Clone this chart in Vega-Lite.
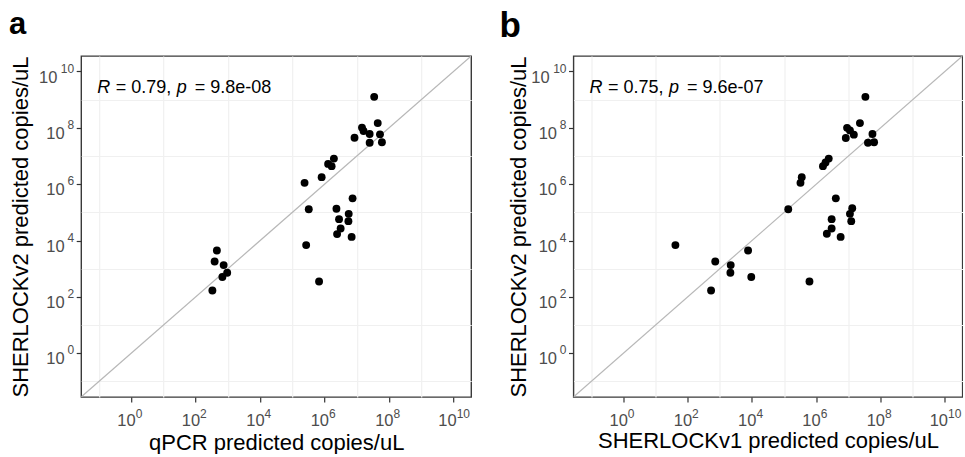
{
  "$schema": "https://vega.github.io/schema/vega-lite/v6.json",
  "padding": {"left": 7.2, "top": 8, "right": 0, "bottom": 0},
  "spacing": 26.3,
  "background": "white",
  "config": {
    "font": "Liberation Sans",
    "view": {"stroke": "#3A3A3A", "strokeWidth": 1.4},
    "axis": {
      "domain": false, "grid": true, "gridColor": "#E6E6E6", "gridWidth": 1.5,
      "tickColor": "#333333", "tickWidth": 1.2, "tickSize": 5,
      "labelColor": "#4D4D4D", "labelFontSize": 16.5, "labelFont": "Liberation Sans",
      "titleFont": "Liberation Sans", "titleFontSize": 22, "titleFontWeight": "normal", "titleColor": "#000000",
      "labelFlush": false, "labelOverlap": false, "labelBound": false
    }
  },
  "datasets": {
    "diag": [{"x": 0.028183829, "y": 0.028183829}, {"x": 35481338923, "y": 35481338923}],
    "ann": [
      {"panel": "a", "x": 0.089, "y": 1.74e9, "r": "R", "s1": "= 0.79,", "p": "p", "s2": "= 9.8e-08"},
      {"panel": "b", "x": 0.089, "y": 1.74e9, "r": "R", "s1": "= 0.75,", "p": "p", "s2": "= 9.6e-07"}
    ],
    "pts": [
      {"panel": "a", "x": 3.47e7, "y": 1.26e9}, {"panel": "a", "x": 4.47e7, "y": 1.48e8}, {"panel": "a", "x": 1.45e7, "y": 1.02e8},
      {"panel": "a", "x": 1.62e7, "y": 7.76e7}, {"panel": "a", "x": 2.51e7, "y": 6.03e7}, {"panel": "a", "x": 5.25e7, "y": 5.89e7},
      {"panel": "a", "x": 8.51e6, "y": 4.47e7}, {"panel": "a", "x": 2.51e7, "y": 2.95e7}, {"panel": "a", "x": 6.03e7, "y": 3.09e7},
      {"panel": "a", "x": 1.95e6, "y": 8.13e6}, {"panel": "a", "x": 1.29e6, "y": 5.25e6}, {"panel": "a", "x": 1.66e6, "y": 4.37e6},
      {"panel": "a", "x": 8.13e5, "y": 1.78e6}, {"panel": "a", "x": 2.40e5, "y": 1.12e6}, {"panel": "a", "x": 7.41e6, "y": 3.16e5},
      {"panel": "a", "x": 3.24e5, "y": 1.29e5}, {"panel": "a", "x": 2.34e6, "y": 1.35e5}, {"panel": "a", "x": 5.62e6, "y": 8.91e4},
      {"panel": "a", "x": 2.82e6, "y": 5.75e4}, {"panel": "a", "x": 5.50e6, "y": 4.90e4}, {"panel": "a", "x": 3.16e6, "y": 2.69e4},
      {"panel": "a", "x": 2.45e6, "y": 1.70e4}, {"panel": "a", "x": 6.92e6, "y": 1.35e4}, {"panel": "a", "x": 2.69e5, "y": 6920},
      {"panel": "a", "x": 457, "y": 4470}, {"panel": "a", "x": 389, "y": 1820}, {"panel": "a", "x": 741, "y": 1350},
      {"panel": "a", "x": 955, "y": 724}, {"panel": "a", "x": 676, "y": 513}, {"panel": "a", "x": 331, "y": 170},
      {"panel": "a", "x": 6.76e5, "y": 355},
      {"panel": "b", "x": 3.39e7, "y": 1.26e9}, {"panel": "b", "x": 2.29e7, "y": 1.48e8}, {"panel": "b", "x": 9.12e6, "y": 1.00e8},
      {"panel": "b", "x": 1.12e7, "y": 8.13e7}, {"panel": "b", "x": 1.48e7, "y": 5.75e7}, {"panel": "b", "x": 5.62e7, "y": 6.03e7},
      {"panel": "b", "x": 8.32e6, "y": 4.37e7}, {"panel": "b", "x": 4.07e7, "y": 2.95e7}, {"panel": "b", "x": 6.31e7, "y": 3.09e7},
      {"panel": "b", "x": 2.45e6, "y": 8.13e6}, {"panel": "b", "x": 1.95e6, "y": 5.89e6}, {"panel": "b", "x": 1.62e6, "y": 4.37e6},
      {"panel": "b", "x": 3.55e5, "y": 1.78e6}, {"panel": "b", "x": 3.24e5, "y": 1.12e6}, {"panel": "b", "x": 4.07e6, "y": 3.16e5},
      {"panel": "b", "x": 1.35e5, "y": 1.29e5}, {"panel": "b", "x": 1.32e7, "y": 1.41e5}, {"panel": "b", "x": 1.12e7, "y": 8.91e4},
      {"panel": "b", "x": 3.02e6, "y": 5.75e4}, {"panel": "b", "x": 1.23e7, "y": 4.90e4}, {"panel": "b", "x": 3.02e6, "y": 2.69e4},
      {"panel": "b", "x": 2.14e6, "y": 1.74e4}, {"panel": "b", "x": 5.75e6, "y": 1.35e4}, {"panel": "b", "x": 41.7, "y": 6920},
      {"panel": "b", "x": 7590, "y": 4470}, {"panel": "b", "x": 724, "y": 1820}, {"panel": "b", "x": 2190, "y": 1350},
      {"panel": "b", "x": 2140, "y": 724}, {"panel": "b", "x": 9550, "y": 513}, {"panel": "b", "x": 537, "y": 170},
      {"panel": "b", "x": 6.17e5, "y": 355}
    ]
  },
  "hconcat": [
    {
      "width": 390, "height": 341,
      "title": {"text": "a", "anchor": "start", "frame": "bounds", "fontSize": 31, "fontWeight": "bold", "baseline": "alphabetic", "offset": -8.8, "dx": -0.8, "color": "#000000"},
      "layer": [
        {
          "data": {"name": "diag"},
          "mark": {"type": "line", "color": "#B8B8B8", "strokeWidth": 1.2, "clip": true},
          "encoding": {
            "x": {"field": "x", "type": "quantitative", "scale": {"type": "log", "domain": [0.028183829, 35481338923], "nice": false},
                  "axis": {"orient": "bottom", "values": [0.1, 10, 1000, 100000, 10000000, 1000000000], "labels": false, "ticks": false, "tickSize": 0, "title": null, "gridWidth": 1.2, "gridColor": "#F0F0F0"}},
            "y": {"field": "y", "type": "quantitative", "scale": {"type": "log", "domain": [0.028183829, 35481338923], "nice": false},
                  "axis": {"orient": "left", "values": [0.1, 10, 1000, 100000, 10000000, 1000000000], "labels": false, "ticks": false, "tickSize": 0, "title": null, "gridWidth": 1.2, "gridColor": "#F0F0F0"}}
          }
        },
        {
          "data": {"name": "pts"},
          "transform": [{"filter": "datum.panel == 'a'"}],
          "mark": {"type": "circle", "color": "#000000", "opacity": 1, "size": 62},
          "encoding": {
            "x": {"field": "x", "type": "quantitative",
                  "axis": {"orient": "bottom", "values": [1, 100, 10000, 1000000, 100000000, 10000000000],
                           "labelExpr": "'10'", "labelAlign": "right", "labelBaseline": "alphabetic", "labelPadding": 23.7,
                           "labelOffset": {"condition": {"test": "datum.value > 1e9", "value": 2.7}, "value": 4},
                           "title": "qPCR predicted copies/uL", "titleX": 195, "titleY": 52.3, "titleBaseline": "alphabetic", "titleAlign": "center"}},
            "y": {"field": "y", "type": "quantitative",
                  "axis": {"orient": "left", "values": [1, 100, 10000, 1000000, 100000000, 10000000000],
                           "labelExpr": "'10'", "labelAlign": "right", "labelBaseline": "alphabetic", "labelOffset": 10.5,
                           "labelPadding": {"condition": {"test": "datum.value > 1e9", "value": 19.3}, "value": 12},
                           "title": "SHERLOCKv2 predicted copies/uL", "titleX": -53.5, "titleY": 170.5, "titleBaseline": "alphabetic", "titleAlign": "center", "titleAngle": 270}}
          }
        },
        {
          "data": {"name": "ann"}, "transform": [{"filter": "datum.panel == 'a'"}],
          "mark": {"type": "text", "align": "left", "baseline": "alphabetic", "fontSize": 18, "fontStyle": "italic", "color": "#000000"},
          "encoding": {
            "x": {"field": "x", "type": "quantitative",
                  "axis": {"orient": "bottom", "values": [1, 100, 10000, 1000000, 100000000, 10000000000], "grid": false, "ticks": false, "tickSize": 0, "title": null,
                           "labelExpr": "datum.value < 10 ? '0' : datum.value < 1000 ? '2' : datum.value < 1e5 ? '4' : datum.value < 1e7 ? '6' : datum.value < 1e9 ? '8' : '10'",
                           "labelFontSize": 12, "labelAlign": "left", "labelBaseline": "alphabetic", "labelPadding": 20.7,
                           "labelOffset": {"condition": {"test": "datum.value > 1e9", "value": 2.7}, "value": 4}}},
            "y": {"field": "y", "type": "quantitative",
                  "axis": {"orient": "left", "values": [1, 100, 10000, 1000000, 100000000, 10000000000], "grid": false, "ticks": false, "tickSize": 0, "title": null,
                           "labelExpr": "datum.value < 10 ? '0' : datum.value < 1000 ? '2' : datum.value < 1e5 ? '4' : datum.value < 1e7 ? '6' : datum.value < 1e9 ? '8' : '10'",
                           "labelFontSize": 12, "labelAlign": "right", "labelBaseline": "alphabetic", "labelPadding": 7.5, "labelOffset": 0.5}},
            "text": {"field": "r"}
          }
        },
        {
          "data": {"name": "ann"}, "transform": [{"filter": "datum.panel == 'a'"}],
          "mark": {"type": "text", "align": "left", "baseline": "alphabetic", "fontSize": 18, "dx": 18.5, "color": "#000000"},
          "encoding": {"x": {"field": "x", "type": "quantitative", "axis": null}, "y": {"field": "y", "type": "quantitative", "axis": null}, "text": {"field": "s1"}}
        },
        {
          "data": {"name": "ann"}, "transform": [{"filter": "datum.panel == 'a'"}],
          "mark": {"type": "text", "align": "left", "baseline": "alphabetic", "fontSize": 18, "fontStyle": "italic", "dx": 79.5, "color": "#000000"},
          "encoding": {"x": {"field": "x", "type": "quantitative", "axis": null}, "y": {"field": "y", "type": "quantitative", "axis": null}, "text": {"field": "p"}}
        },
        {
          "data": {"name": "ann"}, "transform": [{"filter": "datum.panel == 'a'"}],
          "mark": {"type": "text", "align": "left", "baseline": "alphabetic", "fontSize": 18, "dx": 97.5, "color": "#000000"},
          "encoding": {"x": {"field": "x", "type": "quantitative", "axis": null}, "y": {"field": "y", "type": "quantitative", "axis": null}, "text": {"field": "s2"}}
        }
      ],
      "resolve": {"axis": {"x": "independent", "y": "independent"}}
    },
    {
      "width": 389, "height": 341,
      "title": {"text": "b", "anchor": "start", "frame": "bounds", "fontSize": 35, "fontWeight": "bold", "baseline": "alphabetic", "offset": -16.2, "dx": -8.5, "color": "#000000"},
      "layer": [
        {
          "data": {"name": "diag"},
          "mark": {"type": "line", "color": "#B8B8B8", "strokeWidth": 1.2, "clip": true},
          "encoding": {
            "x": {"field": "x", "type": "quantitative", "scale": {"type": "log", "domain": [0.028183829, 35481338923], "nice": false},
                  "axis": {"orient": "bottom", "values": [0.1, 10, 1000, 100000, 10000000, 1000000000], "labels": false, "ticks": false, "tickSize": 0, "title": null, "gridWidth": 1.2, "gridColor": "#F0F0F0"}},
            "y": {"field": "y", "type": "quantitative", "scale": {"type": "log", "domain": [0.028183829, 35481338923], "nice": false},
                  "axis": {"orient": "left", "values": [0.1, 10, 1000, 100000, 10000000, 1000000000], "labels": false, "ticks": false, "tickSize": 0, "title": null, "gridWidth": 1.2, "gridColor": "#F0F0F0"}}
          }
        },
        {
          "data": {"name": "pts"},
          "transform": [{"filter": "datum.panel == 'b'"}],
          "mark": {"type": "circle", "color": "#000000", "opacity": 1, "size": 62},
          "encoding": {
            "x": {"field": "x", "type": "quantitative",
                  "axis": {"orient": "bottom", "values": [1, 100, 10000, 1000000, 100000000, 10000000000],
                           "labelExpr": "'10'", "labelAlign": "right", "labelBaseline": "alphabetic", "labelPadding": 23.7,
                           "labelOffset": {"condition": {"test": "datum.value > 1e9", "value": 2.7}, "value": 4},
                           "title": "SHERLOCKv1 predicted copies/uL", "titleX": 194.5, "titleY": 50.7, "titleBaseline": "alphabetic", "titleAlign": "center"}},
            "y": {"field": "y", "type": "quantitative",
                  "axis": {"orient": "left", "values": [1, 100, 10000, 1000000, 100000000, 10000000000],
                           "labelExpr": "'10'", "labelAlign": "right", "labelBaseline": "alphabetic", "labelOffset": 10.5,
                           "labelPadding": {"condition": {"test": "datum.value > 1e9", "value": 19.3}, "value": 12},
                           "title": "SHERLOCKv2 predicted copies/uL", "titleX": -47.5, "titleY": 170.5, "titleBaseline": "alphabetic", "titleAlign": "center", "titleAngle": 270}}
          }
        },
        {
          "data": {"name": "ann"}, "transform": [{"filter": "datum.panel == 'b'"}],
          "mark": {"type": "text", "align": "left", "baseline": "alphabetic", "fontSize": 18, "fontStyle": "italic", "color": "#000000"},
          "encoding": {
            "x": {"field": "x", "type": "quantitative",
                  "axis": {"orient": "bottom", "values": [1, 100, 10000, 1000000, 100000000, 10000000000], "grid": false, "ticks": false, "tickSize": 0, "title": null,
                           "labelExpr": "datum.value < 10 ? '0' : datum.value < 1000 ? '2' : datum.value < 1e5 ? '4' : datum.value < 1e7 ? '6' : datum.value < 1e9 ? '8' : '10'",
                           "labelFontSize": 12, "labelAlign": "left", "labelBaseline": "alphabetic", "labelPadding": 20.7,
                           "labelOffset": {"condition": {"test": "datum.value > 1e9", "value": 2.7}, "value": 4}}},
            "y": {"field": "y", "type": "quantitative",
                  "axis": {"orient": "left", "values": [1, 100, 10000, 1000000, 100000000, 10000000000], "grid": false, "ticks": false, "tickSize": 0, "title": null,
                           "labelExpr": "datum.value < 10 ? '0' : datum.value < 1000 ? '2' : datum.value < 1e5 ? '4' : datum.value < 1e7 ? '6' : datum.value < 1e9 ? '8' : '10'",
                           "labelFontSize": 12, "labelAlign": "right", "labelBaseline": "alphabetic", "labelPadding": 7.5, "labelOffset": 0.5}},
            "text": {"field": "r"}
          }
        },
        {
          "data": {"name": "ann"}, "transform": [{"filter": "datum.panel == 'b'"}],
          "mark": {"type": "text", "align": "left", "baseline": "alphabetic", "fontSize": 18, "dx": 18.5, "color": "#000000"},
          "encoding": {"x": {"field": "x", "type": "quantitative", "axis": null}, "y": {"field": "y", "type": "quantitative", "axis": null}, "text": {"field": "s1"}}
        },
        {
          "data": {"name": "ann"}, "transform": [{"filter": "datum.panel == 'b'"}],
          "mark": {"type": "text", "align": "left", "baseline": "alphabetic", "fontSize": 18, "fontStyle": "italic", "dx": 79.5, "color": "#000000"},
          "encoding": {"x": {"field": "x", "type": "quantitative", "axis": null}, "y": {"field": "y", "type": "quantitative", "axis": null}, "text": {"field": "p"}}
        },
        {
          "data": {"name": "ann"}, "transform": [{"filter": "datum.panel == 'b'"}],
          "mark": {"type": "text", "align": "left", "baseline": "alphabetic", "fontSize": 18, "dx": 97.5, "color": "#000000"},
          "encoding": {"x": {"field": "x", "type": "quantitative", "axis": null}, "y": {"field": "y", "type": "quantitative", "axis": null}, "text": {"field": "s2"}}
        }
      ],
      "resolve": {"axis": {"x": "independent", "y": "independent"}}
    }
  ]
}
